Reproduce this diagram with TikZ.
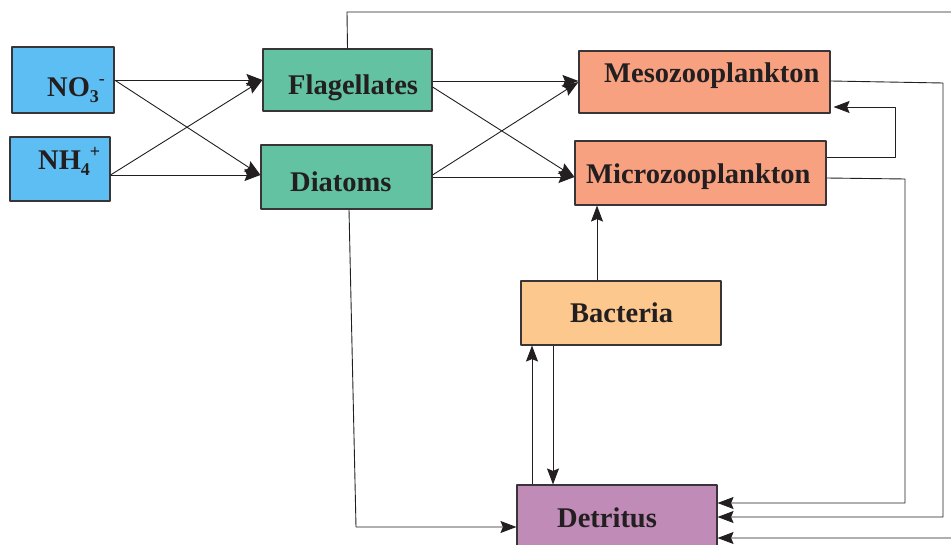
\documentclass[tikz,border=0pt]{standalone}
\usepackage{fontspec}
\setmainfont{Liberation Serif}
\usetikzlibrary{arrows.meta}
\definecolor{nutblue}{RGB}{92,190,243}
\definecolor{phygreen}{RGB}{98,194,162}
\definecolor{zoosalmon}{RGB}{247,161,128}
\definecolor{bacorange}{RGB}{252,200,142}
\definecolor{detpurple}{RGB}{193,139,184}
\definecolor{inkdark}{RGB}{35,31,32}
\newcommand{\sublow}[1]{\raisebox{-6pt}{\fontsize{18}{18}\selectfont #1}}
\newcommand{\suphigh}[1]{\raisebox{12pt}{\fontsize{18}{18}\selectfont #1}}
\tikzset{
	box/.style={draw=inkdark!90, line width=1.1pt, inner sep=0pt},
	lbl/.style={anchor=base west, inner sep=0pt, text=inkdark,
		font=\fontsize{28.5}{30}\selectfont\bfseries},
	flow/.style={->, draw=inkdark, line width=0.9pt}
}
\begin{document}
\begin{tikzpicture}[x=1pt, y=-1pt, line join=round, >={Stealth[length=16pt,width=12pt,inset=2.5pt]}]
	\useasboundingbox (0,0) rectangle (951,545);
	%%%%%%%%%%%%%%%%%%%%%%%%%%%%%%%%%
	\node[box, fill=nutblue, minimum width=102pt, minimum height=66pt] (no3) at (63,80) {};
	\node[box, fill=nutblue, minimum width=100pt, minimum height=64pt] (nh4) at (60,169) {};
	\node[box, fill=phygreen, minimum width=169pt, minimum height=62pt] (flag) at (347.5,80) {};
	\node[box, fill=phygreen, minimum width=171pt, minimum height=64pt] (diat) at (346.5,177) {};
	\node[box, fill=zoosalmon, minimum width=251pt, minimum height=62pt] (meso) at (704.5,82) {};
	\node[box, fill=zoosalmon, minimum width=251pt, minimum height=64pt] (micro) at (700.5,173) {};
	\node[box, fill=bacorange, minimum width=200pt, minimum height=64pt] (bact) at (621,313) {};
	\node[box, fill=detpurple, minimum width=200pt, minimum height=70pt] (detr) at (617,520) {};
	%%%%%%%%%%%%%%%%%%%%%%%%%%%%%%%%%
	\node[lbl] (no3-t) at (47,97) {NO\sublow{3}\suphigh{-}};
	\node[lbl] (nh4-t) at (38,170) {NH\sublow{4}\suphigh{+}};
	\node[lbl] (flag-t) at (288,95) {Flagellates};
	\node[lbl] (diat-t) at (290,192) {Diatoms};
	\node[lbl] (meso-t) at (604,83) {Mesozooplankton};
	\node[lbl] (micro-t) at (586,184) {Microzooplankton};
	\node[lbl] (bact-t) at (570,323) {Bacteria};
	\node[lbl] (detr-t) at (557,527) {Detritus};
	%%%%%%%%%%%%%%%%%%%%%%%%%%%%%%%%%
	\coordinate (topleft) at (347,12);
	\coordinate (topright) at (956,12);
	%%%%%%%%%%%%%%%%%%%%%%%%%%%%%%%%%
	\draw[flow] (no3.east) -- (flag.west);
	\draw[flow] (no3.east) -- ([yshift=2pt]diat.west);
	\draw[flow] ([yshift=-6pt]nh4.east) -- (flag.west);
	\draw[flow] ([yshift=-6pt]nh4.east) -- ([yshift=2pt]diat.west);
	\draw[flow] ([yshift=-1pt]flag.east) -- ([yshift=1pt]meso.west);
	\draw[flow] ([yshift=-7pt]flag.east) -- ([yshift=-4pt]micro.west);
	\draw[flow] ([yshift=2pt]diat.east) -- (meso.west);
	\draw[flow] (diat.east) -- ([yshift=-4pt]micro.west);
	\draw[flow] (flag.north) -- (topleft) -- (topright) |- ([yshift=-18pt]detr.east);
	\draw[flow] ([yshift=1pt]meso.east) -- (943,83) |- ([yshift=3pt]detr.east);
	\draw[flow] ([yshift=-5pt]micro.east) -- (905,179) |- ([yshift=17pt]detr.east);
	\draw[flow] ([yshift=16pt]micro.east) -| (895,107) -- ([xshift=3pt,yshift=-25pt]meso.east);
	\draw[flow] (bact.north -| 597,0) -- (micro.south -| 597,0);
	\draw[flow] (detr.north -| 532,0) -- (bact.south -| 532,0);
	\draw[flow] (bact.south -| 553,0) -- (detr.north -| 553,0);
	\draw[flow] (diat.south -| 349,0) -- (356,527) -- ([yshift=-7pt]detr.west);
\end{tikzpicture}
\end{document}
